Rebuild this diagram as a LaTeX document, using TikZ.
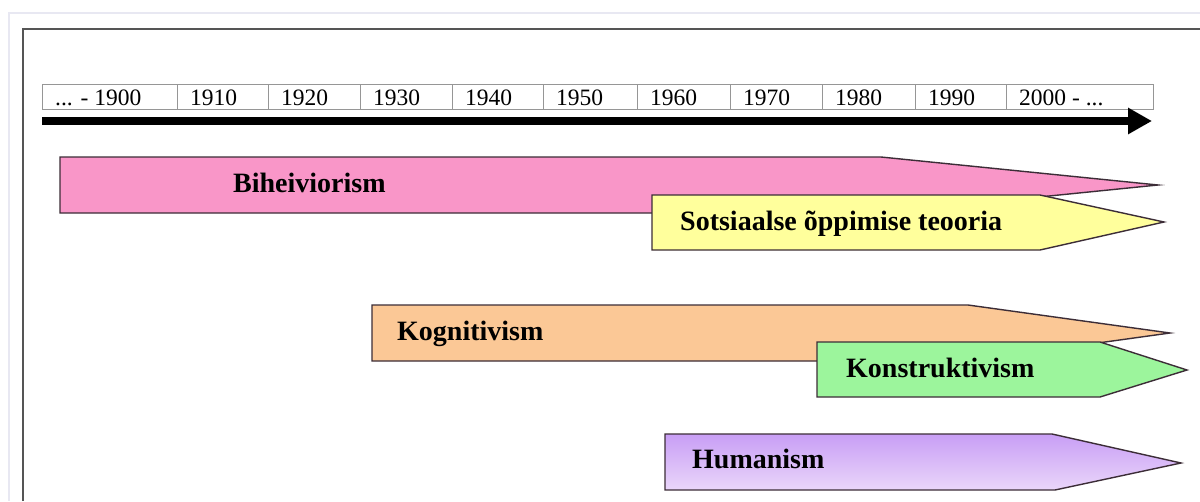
\documentclass[tikz,border=0pt]{standalone}
\usepackage{fontspec}
\setmainfont{Liberation Serif}
\usetikzlibrary{arrows.meta}
\definecolor{pinkf}{RGB}{249,150,200}
\definecolor{yellowf}{RGB}{255,255,156}
\definecolor{orangef}{RGB}{251,200,150}
\definecolor{greenf}{RGB}{156,245,156}
\definecolor{purpletop}{RGB}{200,158,245}
\definecolor{purplebot}{RGB}{234,214,250}
\definecolor{edgec}{RGB}{60,45,55}
\definecolor{framec}{RGB}{85,85,85}
\definecolor{lightc}{RGB}{232,232,242}
\definecolor{cellc}{RGB}{150,150,150}
\tikzset{
  band/.style={draw=edgec, line width=1.4pt, line join=miter},
  bandlabel/.style={anchor=base west, inner sep=0pt, font=\fontsize{28}{32}\selectfont\bfseries},
  yearlabel/.style={anchor=base west, inner sep=0pt, font=\fontsize{23.5}{27}\selectfont},
  cellbox/.style={draw=cellc, line width=0.8pt}
}
\begin{document}
\begin{tikzpicture}[x=1pt,y=-1pt]
\useasboundingbox[fill=white] (0,0) rectangle (1200,501);
% outer lines
\draw[lightc, line width=1.2pt] (9,501) -- (9,13) -- (1200,13);
\draw[framec, line width=2pt] (23,501) -- (23,29) -- (1200,29);
% year table
\foreach \xa/\xb/\lab [count=\i] in {42/177/{... - 1900},177/268/1910,268/360/1920,360/452/1930,452/543/1940,543/637/1950,637/730/1960,730/822/1970,822/915/1980,915/1006/1990,1006/1153/{2000 - ...}}{
  \draw[cellbox] (\xa,84) rectangle (\xb,109);
  \node[yearlabel] (y\i) at (\xa+13,105) {\lab};
}
% time arrow
\coordinate (tstart) at (42,121);
\coordinate (tend) at (1152,121);
\draw[line width=8pt, -{Triangle[length=24pt,width=25pt]}] (tstart) -- (tend);
% bands
\draw[band, fill=pinkf] (60,157) -- (881,157) -- (1158,185) -- (881,213) -- (60,213) -- cycle;
\draw[band, fill=yellowf] (652,195) -- (1040,195) -- (1164,222) -- (1040,250) -- (652,250) -- cycle;
\draw[band, fill=orangef] (372,305) -- (968,305) -- (1170,333) -- (968,361) -- (372,361) -- cycle;
\draw[band, fill=greenf] (817,342) -- (1100,342) -- (1187,370) -- (1100,397) -- (817,397) -- cycle;
\draw[band, top color=purpletop, bottom color=purplebot] (665,434) -- (1052,434) -- (1181,463) -- (1055,490) -- (665,490) -- cycle;
% labels
\node[bandlabel] (bih) at (233,192) {Biheiviorism};
\node[bandlabel] (sot) at (680,230) {Sotsiaalse õppimise teooria};
\node[bandlabel] (kog) at (397,340) {Kognitivism};
\node[bandlabel] (kon) at (846,377) {Konstruktivism};
\node[bandlabel] (hum) at (692,468) {Humanism};
\end{tikzpicture}
\end{document}
